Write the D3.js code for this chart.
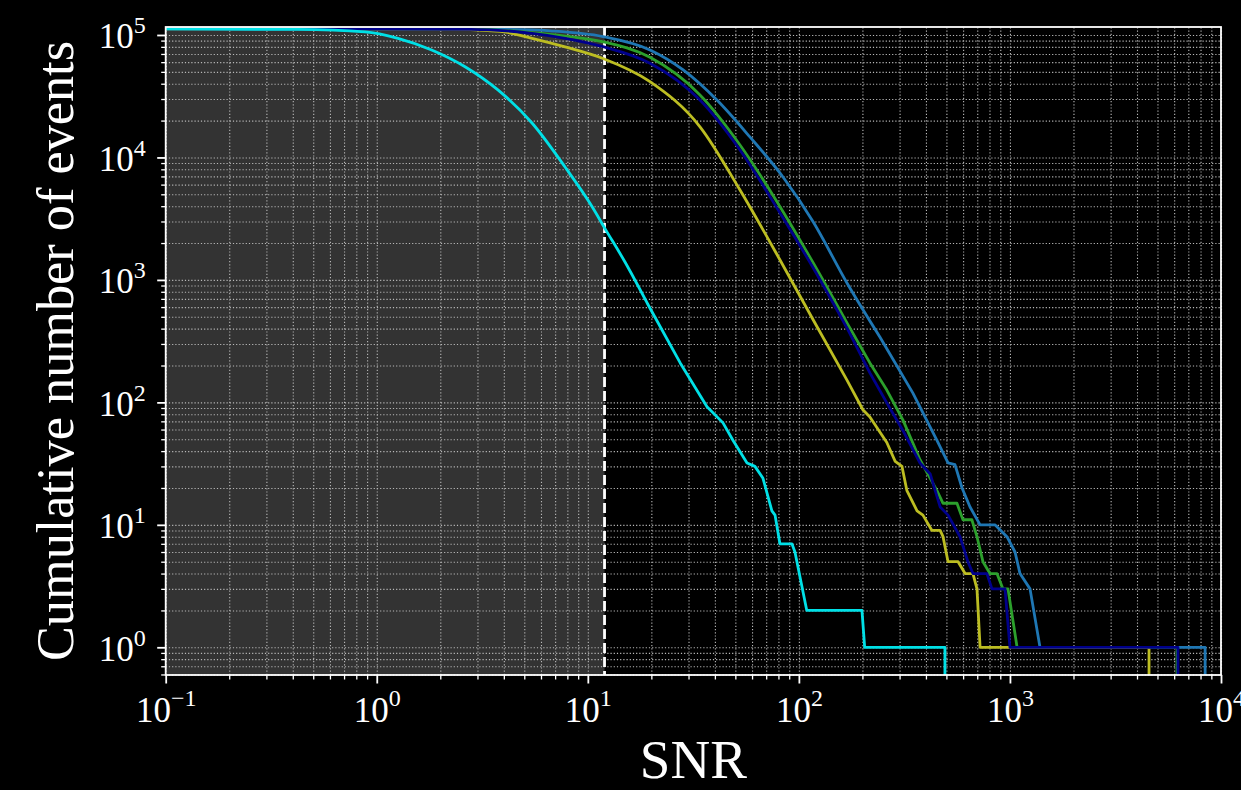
<!DOCTYPE html>
<head>
    <meta charset="utf-8">
    <script src="https://cdnjs.cloudflare.com/ajax/libs/d3/7.9.0/d3.min.js"></script>
    <style>
        body { margin: 0; background: #000; }
        svg text { font-family: "Liberation Serif", "DejaVu Serif", serif; fill: #fff; }
    </style>
</head>
<body>
    <div id="chart"></div>
</body>
<script>

// cumulative number of events above a given SNR
// (the last entry of each series is the drop to zero after the loudest event)

const cyanSNR   = [0.1, 0.42, 0.878, 1.26, 1.82, 2.62, 3.75, 5.44, 7.8, 10.5, 12.1, 15.0, 19.1, 27.4, 36.7, 43.7, 48.7, 56.8, 61.9, 67.6, 74.5, 77.1, 81.3, 92.7, 95.8, 109, 199, 205, 492, 492]
const cyanCount = [112000, 111000, 106000, 94000, 75500, 55100, 35600, 19100, 8350, 3940, 2600, 1400, 648, 210, 92, 68, 49, 32, 30, 24, 13, 12, 7, 7, 6, 2, 2, 1, 1, 0]

const blueSNR   = [0.1, 3.0, 5.44, 6.62, 11.8, 19.7, 28.3, 40.9, 58.6, 84.1, 117, 169, 242, 347, 451, 509, 549, 593, 647, 722, 849, 968, 1057, 1116, 1245, 1388, 8410, 8410]
const blueCount = [112000, 111500, 110000, 108000, 97000, 75400, 51800, 29400, 14700, 6920, 2970, 944, 342, 119, 49, 32, 31, 20, 14, 10, 10, 8, 6, 4, 3, 1, 1, 0]

const greenSNR   = [0.1, 2.8, 5.44, 7.8, 11.8, 19.7, 34.0, 52.6, 81.4, 117, 169, 217, 261, 311, 375, 451, 482, 561, 599, 660, 698, 745, 804, 868, 926, 979, 1081, 6190, 6190]
const greenCount = [112000, 111500, 104500, 98000, 88000, 65700, 32400, 12650, 3960, 1374, 445, 210, 126, 72, 34, 19, 15, 15, 11, 11, 8, 5, 4, 4, 3, 3, 1, 1, 0]

const navySNR   = [0.1, 2.8, 5.44, 7.8, 11.8, 19.7, 34.0, 52.6, 81.4, 117, 169, 217, 261, 311, 375, 419, 467, 509, 580, 632, 668, 778, 822, 948, 1000, 6250, 6250]
const navyCount = [112000, 111000, 103000, 94000, 80200, 58800, 29400, 11500, 3520, 1250, 405, 174, 99, 59, 32, 26, 14, 12, 8, 5, 4, 4, 3, 3, 1, 1, 0]

const oliveSNR   = [0.1, 2.0, 3.84, 5.44, 7.8, 11.8, 19.7, 34.0, 52.6, 81.4, 117, 169, 201, 217, 261, 286, 308, 325, 363, 387, 427, 467, 482, 509, 568, 613, 668, 698, 722, 4560, 4560]
const oliveCount = [112000, 111500, 107000, 94000, 80000, 64300, 41600, 17800, 5420, 1455, 471, 152, 87, 76, 47, 33, 30, 19, 13, 12, 9, 9, 8, 5, 5, 4, 4, 3, 1, 1, 0]

const snrThreshold = 12

const xTicks = [0.1, 1, 10, 100, 1000, 10000]
const xExponents = ["\u22121", "0", "1", "2", "3", "4"]
const yTicks = [1, 10, 100, 1000, 10000, 100000]
const yExponents = ["0", "1", "2", "3", "4", "5"]

// drawing order: navy sits on top of the others at the tail

const series = [
    {snr: blueSNR,  count: blueCount,  color: "#1f77b4"},
    {snr: greenSNR, count: greenCount, color: "#2ca02c"},
    {snr: oliveSNR, count: oliveCount, color: "#bcbd22"},
    {snr: navySNR,  count: navyCount,  color: "#00008b"},
    {snr: cyanSNR,  count: cyanCount,  color: "#00e0e6"}
]

// dimensions

const margin = {top: 27, right: 20, bottom: 115, left: 165.7}
const width = 1241 - margin.left - margin.right
const height = 790 - margin.top - margin.bottom

const svg = d3.select("#chart")
    .append("svg")
    .attr("width", 1241)
    .attr("height", 790)
    .style("background", "#000")

const g = svg.append("g")
    .attr("transform", `translate(${margin.left},${margin.top})`)

const x = d3.scaleLog().domain([0.1, 1e4]).range([0, width])
const y = d3.scaleLog().domain([0.594, 1.162e5]).range([height, 0])

// minor tick positions for each decade

function minorTicks(domain) {
    let out = []
    for (let k = -2; k <= 6; k++) {
        for (let m = 1; m <= 9; m++) {
            let v = m * Math.pow(10, k)
            if (v >= domain[0] * 0.999 && v <= domain[1] * 1.001) out.push(v)
        }
    }
    return out
}

const xAll = minorTicks(x.domain())
const yAll = minorTicks(y.domain())

g.append("defs").append("clipPath").attr("id", "plotClip")
    .append("rect").attr("width", width).attr("height", height)

// background: black axes with grey span below the threshold

g.append("rect").attr("width", width).attr("height", height).attr("fill", "#000")
g.append("rect")
    .attr("x", 0)
    .attr("width", x(snrThreshold))
    .attr("height", height)
    .attr("fill", "#333333")

// dotted grid, major and minor

const gridX = g.append("g")
    .attr("transform", `translate(0,${height})`)
    .call(d3.axisBottom(x).tickValues(xAll).tickSize(-height).tickFormat(""))
const gridY = g.append("g")
    .call(d3.axisLeft(y).tickValues(yAll).tickSize(-width).tickFormat(""))
;[gridX, gridY].forEach(a => {
    a.select(".domain").remove()
    a.selectAll("line")
        .attr("stroke", "#b8b8b8")
        .attr("stroke-width", 1.1)
        .attr("stroke-dasharray", "1.2,2")
})

// threshold line

g.append("line")
    .attr("x1", x(snrThreshold)).attr("x2", x(snrThreshold))
    .attr("y1", 0).attr("y2", height)
    .attr("stroke", "#fff")
    .attr("stroke-width", 2.8)
    .attr("stroke-dasharray", "10,4")

// curves: smooth through the bulk, straight segments through the
// few-event steps, then the vertical drop to zero

const smooth = d3.line()
    .curve(d3.curveMonotoneX)
    .x(d => x(d[0]))
    .y(d => y(d[1]))

function curvePath(d) {
    const pts = d.snr.map((s, i) => [s, d.count[i]])
    const last = pts.pop()
    const head = pts.filter(p => p[1] >= 300)
    const tail = pts.filter(p => p[1] < 300)
    return smooth(head)
        + tail.map(p => `L${x(p[0])},${y(p[1])}`).join("")
        + `L${x(last[0])},${y(y.domain()[0])}`
}

g.append("g").attr("clip-path", "url(#plotClip)")
    .selectAll("path")
    .data(series)
    .join("path")
    .attr("fill", "none")
    .attr("stroke", d => d.color)
    .attr("stroke-width", 2.8)
    .attr("stroke-linejoin", "round")
    .attr("d", curvePath)

// frame

g.append("rect")
    .attr("width", width).attr("height", height)
    .attr("fill", "none")
    .attr("stroke", "#fff")
    .attr("stroke-width", 1.8)

// axes ticks

const xMinor = xAll.filter(v => !xTicks.some(t => Math.abs(t - v) / t < 1e-6))
const yMinor = yAll.filter(v => !yTicks.some(t => Math.abs(t - v) / t < 1e-6))

function styleTicks(a, w) {
    a.select(".domain").remove()
    a.selectAll("line").attr("stroke", "#fff").attr("stroke-width", w)
}

g.append("g").attr("transform", `translate(0,${height})`)
    .call(d3.axisBottom(x).tickValues(xMinor).tickSize(4.5).tickFormat(""))
    .call(a => styleTicks(a, 1.3))
g.append("g")
    .call(d3.axisLeft(y).tickValues(yMinor).tickSize(4.5).tickFormat(""))
    .call(a => styleTicks(a, 1.3))

const xAxis = g.append("g").attr("transform", `translate(0,${height})`)
    .call(d3.axisBottom(x).tickValues(xTicks).tickSize(8.5).tickFormat(""))
    .call(a => styleTicks(a, 1.8))
const yAxis = g.append("g")
    .call(d3.axisLeft(y).tickValues(yTicks).tickSize(8.5).tickFormat(""))
    .call(a => styleTicks(a, 1.8))

// tick labels as 10 with a superscript

xAxis.selectAll(".tick").each(function(d, i) {
    const t = d3.select(this).append("text")
        .attr("y", 47)
        .attr("text-anchor", "middle")
        .attr("font-size", 35)
        .attr("fill", "#fff")
    t.append("tspan").text("10")
    t.append("tspan").attr("dy", -16).attr("font-size", 24).text(xExponents[i])
})

yAxis.selectAll(".tick").each(function(d, i) {
    const t = d3.select(this).append("text")
        .attr("x", -20)
        .attr("y", 13)
        .attr("text-anchor", "end")
        .attr("font-size", 35)
        .attr("fill", "#fff")
    t.append("tspan").text("10")
    t.append("tspan").attr("dy", -15).attr("font-size", 24).text(yExponents[i])
})

// axis titles

svg.append("text")
    .attr("x", margin.left + width / 2)
    .attr("y", 778)
    .attr("text-anchor", "middle")
    .attr("font-size", 55)
    .text("SNR")

svg.append("text")
    .attr("transform", `translate(73,${margin.top + height / 2}) rotate(-90)`)
    .attr("text-anchor", "middle")
    .attr("font-size", 53)
    .attr("textLength", 620)
    .attr("lengthAdjust", "spacingAndGlyphs")
    .text("Cumulative number of events")

</script>
